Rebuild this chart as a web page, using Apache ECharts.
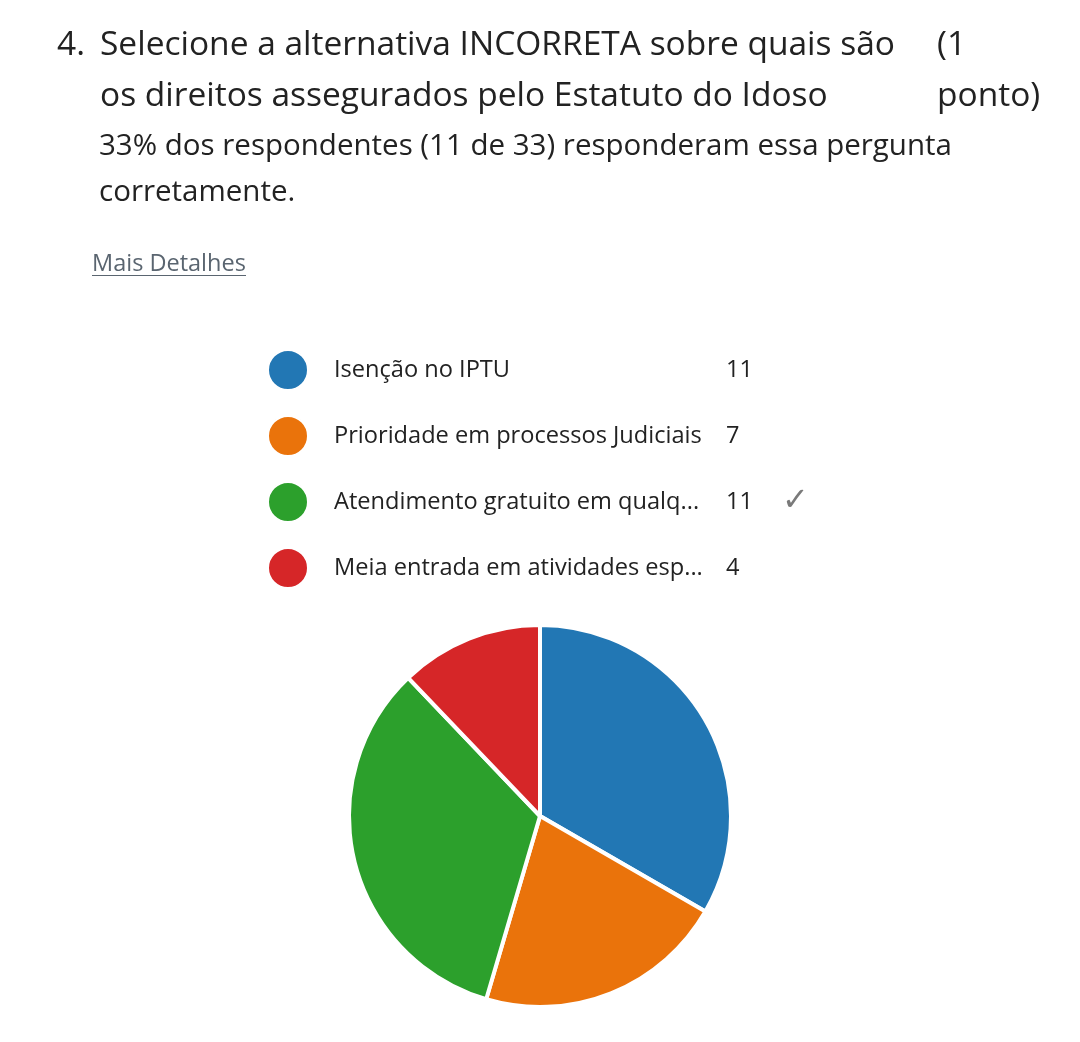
<!DOCTYPE html>
<html>
<head>
<meta charset="utf-8">
<script src="https://cdn.jsdelivr.net/npm/echarts@6/dist/echarts.min.js"></script>
<style>
  html, body { margin: 0; padding: 0; background: #fff; }
  #main { width: 1080px; height: 1042px; }
</style>
</head>
<body>
<div id="main"></div>
<script>
var categories = ['Isenção no IPTU', 'Prioridade em processos Judiciais', 'Atendimento gratuito em qualq...', 'Meia entrada em atividades esp...'];
var counts = [11, 7, 11, 4];
var correct = [false, false, true, false];
var colors = ['#2277b4', '#ea730b', '#2ca02c', '#d62628'];

var FONT = '"Open Sans", "Noto Sans", sans-serif';
var dark = '#222222';

var chart = echarts.init(document.getElementById('main'));

var pieData = [];
for (var i = 0; i < categories.length; i++) {
  pieData.push({ name: categories[i], value: counts[i] });
}

function txt(x, y, s, size, color) {
  return {
    type: 'text', x: x, y: y, silent: true,
    style: { text: s, fill: color || dark, font: size + 'px ' + FONT, textVerticalAlign: 'middle' }
  };
}

var option = {
  backgroundColor: '#ffffff',
  color: colors,
  animation: false,
  graphic: [
    txt(57, 45, '4.', 33.5),
    txt(100, 45, 'Selecione a alternativa INCORRETA sobre quais são', 33.5),
    txt(937, 45, '(1', 33.5),
    txt(100, 96, 'os direitos assegurados pelo Estatuto do Idoso', 33.5),
    txt(937, 96, 'ponto)', 33.5),
    txt(99, 147, '33% dos respondentes (11 de 33) responderam essa pergunta', 29.5),
    txt(99, 193, 'corretamente.', 29.5),
    txt(92, 264, 'Mais Detalhes', 23.5, '#5a6570'),
    { type: 'line', silent: true, shape: { x1: 92, y1: 275.5, x2: 246, y2: 275.5 },
      style: { stroke: '#5a6570', lineWidth: 1.2 } }
  ],
  legend: {
    orient: 'vertical',
    left: 267,
    top: 349,
    padding: 0,
    icon: 'circle',
    itemWidth: 40,
    itemHeight: 40,
    itemGap: 24,
    selectedMode: false,
    formatter: function (name) {
      var idx = categories.indexOf(name);
      return '{n|' + name + '}{v|' + counts[idx] + '}' + (correct[idx] ? '{c|✓}' : '');
    },
    textStyle: {
      rich: {
        n: { width: 392, padding: [0, 0, 0, 21], fontSize: 23.6, lineHeight: 32, fontFamily: FONT, color: dark },
        v: { width: 56, fontSize: 23.6, lineHeight: 32, fontFamily: FONT, color: dark },
        c: { fontSize: 32, lineHeight: 32, fontFamily: '"DejaVu Sans", sans-serif', color: '#7a7a7a' }
      }
    }
  },
  series: [{
    type: 'pie',
    center: [540, 816],
    radius: [0, 191],
    startAngle: 90,
    clockwise: true,
    label: { show: false },
    labelLine: { show: false },
    itemStyle: { borderColor: '#ffffff', borderWidth: 4 },
    emphasis: { disabled: true },
    data: pieData
  }]
};

chart.setOption(option);
</script>
</body>
</html>
